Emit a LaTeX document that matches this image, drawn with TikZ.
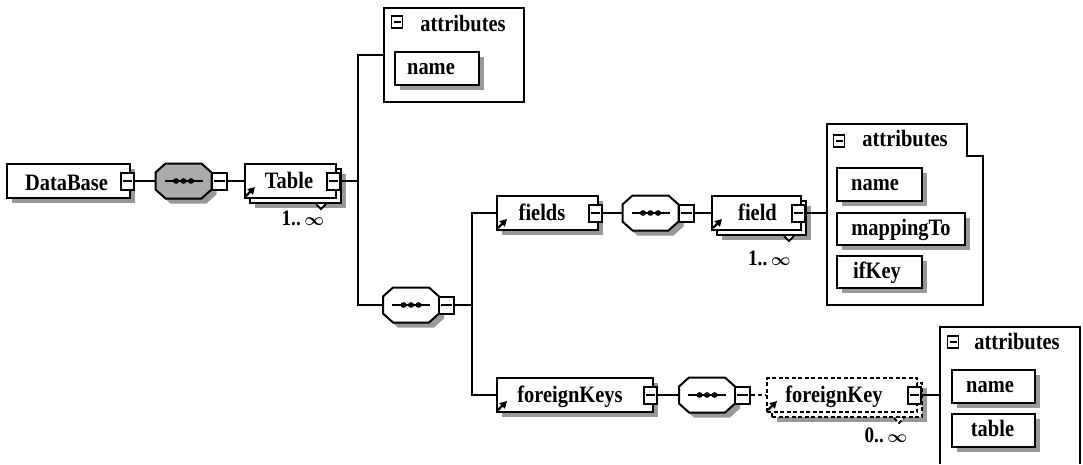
\documentclass[tikz,border=0pt]{standalone}
\usepackage{fontspec}
\setmainfont{Liberation Serif}
\newfontfamily\dgmfont[FakeStretch=0.87]{Liberation Serif Bold}
\usetikzlibrary{arrows.meta,calc}
\newcommand\SeqOcta[4]{%
  \begin{scope}[shift={(#2,#3)}]
    \fill[shd,shift={(5,5)}] (-18,-17.5) -- (18,-17.5) -- (28,-8.5) -- (28,8.5) -- (18,17.5) -- (-18,17.5) -- (-28,8.5) -- (-28,-8.5) -- cycle;
    \draw[bx,fill=#4] (-18,-17.5) -- (18,-17.5) -- (28,-8.5) -- (28,8.5) -- (18,17.5) -- (-18,17.5) -- (-28,8.5) -- (-28,-8.5) -- cycle;
    \draw[line width=2pt] (-19,0) -- (19,0);
    \fill (-7.5,0) ellipse[x radius=3.2pt, y radius=2.8pt] (0,0) ellipse[x radius=3.2pt, y radius=2.8pt] (7.5,0) ellipse[x radius=3.2pt, y radius=2.8pt];
  \end{scope}
  \node[inner sep=0pt, minimum width=56pt, minimum height=35pt] (#1) at (#2,#3) {};
}
\newcommand\Inf{{\fontsize{19}{19}\selectfont$\boldsymbol{\infty}$}}
\usepackage{amsmath}
\begin{document}
\begin{tikzpicture}[x=1pt,y=-1pt,
  shd/.style={fill=black!40},
  bx/.style={line width=2pt},
  ln/.style={line width=1.8pt},
  elem/.style={draw, fill=white, line width=2pt, inner sep=0pt, minimum height=34pt,
    preaction={fill=black!40, transform canvas={xshift=5pt,yshift=-5pt}}},
  multi/.style={draw, fill=white, line width=2pt, inner sep=0pt, minimum height=34pt,
    preaction={fill=black!40, draw=none, transform canvas={xshift=10pt,yshift=-10pt}},
    preaction={draw, fill=white, transform canvas={xshift=5pt,yshift=-5pt}}},
  att/.style={draw, fill=white, line width=2pt, inner sep=0pt, minimum height=33pt,
    preaction={fill=black!40, transform canvas={xshift=5pt,yshift=-5pt}}},
  cont/.style={draw, line width=2pt},
  mbox/.style={draw, fill=white, line width=2pt, inner sep=0pt, minimum width=13pt, minimum height=17pt,
    path picture={\draw[line width=2pt] ([xshift=2pt]path picture bounding box.west) -- ([xshift=-2pt]path picture bounding box.east);}},
  aticon/.style={draw, fill=white, line width=1.8pt, inner sep=0pt, minimum width=11pt, minimum height=12pt,
    path picture={\draw[line width=1.8pt] ([xshift=2pt]path picture bounding box.west) -- ([xshift=-2pt]path picture bounding box.east);}},
  txt/.style={font=\fontsize{23.5}{27}\dgmfont, inner sep=0pt, anchor=base},
  lbl/.style={font=\fontsize{22}{26}\dgmfont, inner sep=0pt, anchor=base},
  refarrow/.style={line width=2.4pt, -{Triangle[length=7pt,width=7.5pt]}},
  optl/.style={dash pattern=on 4pt off 2.5pt}
]
\useasboundingbox (0,0) rectangle (1083,464);

% ---------- DataBase ----------
\node[elem, minimum width=123pt] (db) at (68.5,181) {};
\node[txt] (dbT) at (66.5,190) {DataBase};
\node[mbox] (mdb) at (127,181) {};

\SeqOcta{s1}{183.5}{181}{black!33}
\node[mbox, minimum width=15pt] (ms1) at (219.5,181) {};

% ---------- Table ----------
\node[multi, minimum width=91pt] (tbl) at (290.5,181) {};
\node[txt] (tblT) at (289,188) {Table};
\node[mbox] (mtbl) at (333,181) {};
\draw[refarrow] ([shift={(2pt,3pt)}]tbl.south west) -- ([shift={(11pt,12pt)}]tbl.south west);
\draw[bx, fill=white] ($(tbl.south east)+(-21,5)$) -- ++(5,5) -- ++(5,-5);
\node[lbl] (tblM) at (303,225) {1..\,\Inf};

% ---------- attributes of Table ----------
\node[cont, minimum width=140pt, minimum height=94pt] (at1) at (454,55) {};
\node[aticon] (at1i) at (397,22) {};
\node[txt] (at1T) at (463,31.5) {attributes};
\node[att, minimum width=84pt] (a1n) at (437,68.5) {};
\node[txt] (a1nT) at (431,74.5) {name};

% ---------- sequence 2 ----------
\SeqOcta{s2}{411}{305}{white}
\node[mbox, minimum width=15pt] (ms2) at (446,305) {};

% ---------- fields ----------
\node[elem, minimum width=101pt] (fields) at (547.5,213) {};
\node[txt] (fieldsT) at (542,220) {fields};
\node[mbox] (mfields) at (595,213) {};
\draw[refarrow] ([shift={(2pt,3pt)}]fields.south west) -- ([shift={(11pt,12pt)}]fields.south west);

\SeqOcta{s3}{650.5}{213}{white}
\node[mbox, minimum width=15pt] (ms3) at (686,213) {};

\node[multi, minimum width=89pt] (field) at (756.5,213) {};
\node[txt] (fieldT) at (757.5,220) {field};
\node[mbox] (mfield) at (798,213) {};
\draw[refarrow] ([shift={(2pt,3pt)}]field.south west) -- ([shift={(11pt,12pt)}]field.south west);
\draw[bx, fill=white] ($(field.south east)+(-18,5)$) -- ++(5,5) -- ++(5,-5);
\node[lbl] (fieldM) at (769.5,265) {1..\,\Inf};

% ---------- attributes of field ----------
\node[inner sep=0pt, minimum width=156pt, minimum height=181pt] (at2) at (905,214.5) {};
\draw[cont] (at2.south west) -- (at2.north west) -- ([xshift=-16pt]at2.north east)
  -- ([xshift=-16pt,yshift=-32pt]at2.north east) -- ([yshift=-32pt]at2.north east)
  -- (at2.south east) -- cycle;
\node[aticon] (at2i) at (839,141) {};
\node[txt] (at2T) at (905,146.5) {attributes};
\node[att, minimum width=85pt] (a2n) at (879.5,184.5) {};
\node[txt] (a2nT) at (875,190.5) {name};
\node[att, minimum width=128pt, minimum height=32pt] (a2m) at (901,229) {};
\node[txt] (a2mT) at (901,235) {mappingTo};
\node[att, minimum width=85pt, minimum height=32pt] (a2k) at (879.5,272) {};
\node[txt] (a2kT) at (877,278) {ifKey};

% ---------- foreignKeys ----------
\node[elem, minimum width=156pt] (fks) at (575,395) {};
\node[txt] (fksT) at (570,402) {foreignKeys};
\node[mbox] (mfks) at (650,395) {};
\draw[refarrow] ([shift={(2pt,3pt)}]fks.south west) -- ([shift={(11pt,12pt)}]fks.south west);

\SeqOcta{s4}{707}{395}{white}
\node[mbox, minimum width=15pt] (ms4) at (742.5,395) {};

\node[multi, optl, minimum width=150pt] (fk) at (842,395) {};
\node[txt] (fkT) at (834,402) {foreignKey};
\node[mbox] (mfk) at (914,395) {};
\draw[refarrow] ([shift={(2pt,3pt)}]fk.south west) -- ([shift={(11pt,12pt)}]fk.south west);
\draw[bx, optl, fill=white] ($(fk.south east)+(-24,5)$) -- ++(5,5) -- ++(5,-5);
\node[lbl] (fkM) at (886,442) {0..\,\Inf};

% ---------- attributes of foreignKey ----------
\node[inner sep=0pt, minimum width=140pt, minimum height=137pt] (at3) at (1010,395.5) {};
\draw[cont] (at3.south west) -- (at3.north west) -- (at3.north east) -- (at3.south east);
\node[aticon] (at3i) at (953,342) {};
\node[txt] (at3T) at (1017,349) {attributes};
\node[att, minimum width=83pt] (a3n) at (993.5,386.5) {};
\node[txt] (a3nT) at (990,392.5) {name};
\node[att, minimum width=83pt] (a3t) at (993.5,430.5) {};
\node[txt] (a3tT) at (992.5,436.5) {table};

% ---------- connectors ----------
\coordinate (j1) at (358,0);
\coordinate (j2) at (472,0);
\draw[ln] (mdb.east) -- (s1.west);
\draw[ln] (ms1.east) -- (tbl.west);
\draw[ln] (mtbl.east) -- (mtbl.east -| j1);
\draw[ln] (at1.west) -- (at1.west -| j1) -- (s2.west -| j1) -- (s2.west);
\draw[ln] (ms2.east) -- (ms2.east -| j2);
\draw[ln] (fields.west) -- (fields.west -| j2) -- (fks.west -| j2) -- (fks.west);
\draw[ln] (mfields.east) -- (s3.west);
\draw[ln] (ms3.east) -- (field.west);
\draw[ln] (mfield.east) -- (mfield.east -| at2.west);
\draw[ln] (mfks.east) -- (s4.west);
\draw[ln, dash pattern=on 4pt off 3pt] (ms4.east) -- (fk.west);
\draw[ln] (mfk.east) -- (mfk.east -| at3.west);
\end{tikzpicture}
\end{document}
